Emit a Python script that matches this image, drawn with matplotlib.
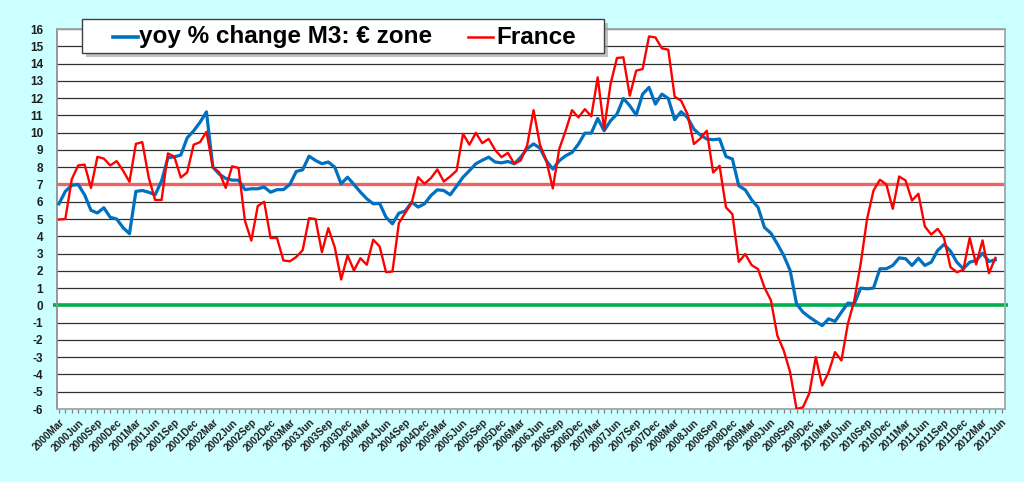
import matplotlib
matplotlib.use("Agg")
import matplotlib.pyplot as plt
from matplotlib.lines import Line2D
from matplotlib.patches import Rectangle
import numpy as np
import pandas as pd

# ---- data -------------------------------------------------------------
months = pd.date_range("2000-03-01", "2012-06-01", freq="MS")
categories = [f"{d.year}{d.strftime('%b')}" for d in months]   # 148 categories

euro_zone = [5.88, 6.6, 6.95, 7.0, 6.4, 5.5, 5.35, 5.65, 5.1, 5.0,
             4.5, 4.15, 6.6, 6.65, 6.55, 6.4, 7.2, 8.55, 8.6, 8.7,
             9.7, 10.1, 10.6, 11.2, 8.0, 7.6, 7.35, 7.25, 7.25, 6.7,
             6.75, 6.75, 6.85, 6.55, 6.7, 6.7, 7.0, 7.75, 7.85, 8.64,
             8.39, 8.2, 8.3, 8.0, 7.04, 7.42, 7.0, 6.56, 6.17, 5.88,
             5.9, 5.1, 4.72, 5.34, 5.46, 5.98, 5.69, 5.88, 6.36, 6.69,
             6.65, 6.4, 6.9, 7.42, 7.8, 8.2, 8.4, 8.58, 8.3, 8.25,
             8.33, 8.2, 8.58, 9.07, 9.35, 9.1, 8.37, 7.89, 8.37, 8.66,
             8.85, 9.34, 9.97, 9.97, 10.82, 10.11, 10.69, 11.07, 11.98, 11.56,
             11.02, 12.23, 12.62, 11.65, 12.23, 11.98, 10.75, 11.21, 10.88, 10.2,
             9.86, 9.63, 9.59, 9.63, 8.62, 8.47, 6.92, 6.69, 6.11, 5.67,
             4.51, 4.18, 3.56, 2.89, 2.02, 0.09, -0.39, -0.68, -0.93, -1.17,
             -0.78, -0.93, -0.39, 0.13, 0.09, 1.0, 0.96, 1.0, 2.12, 2.12,
             2.31, 2.75, 2.7, 2.31, 2.73, 2.31, 2.5, 3.18, 3.53, 3.14,
             2.5, 2.12, 2.5, 2.6, 3.02, 2.54, 2.64]

france = [4.97, 5.0, 7.3, 8.1, 8.15, 6.8, 8.6, 8.5, 8.1, 8.35,
          7.8, 7.15, 9.35, 9.45, 7.4, 6.1, 6.1, 8.8, 8.6, 7.4,
          7.7, 9.3, 9.45, 10.05, 8.0, 7.7, 6.8, 8.05, 7.95, 4.9,
          3.75, 5.75, 6.0, 3.9, 3.9, 2.6, 2.55, 2.8, 3.2, 5.05,
          5.0, 3.08, 4.47, 3.37, 1.5, 2.89, 2.02, 2.73, 2.35, 3.8,
          3.41, 1.92, 1.96, 4.76, 5.36, 5.94, 7.42, 7.04, 7.37, 7.87,
          7.17, 7.46, 7.8, 9.93, 9.3, 9.99, 9.39, 9.64, 9.0, 8.58,
          8.83, 8.2, 8.39, 9.26, 11.3, 9.3, 8.37, 6.77, 9.05, 10.11,
          11.3, 10.88, 11.36, 10.94, 13.2, 10.2, 12.81, 14.32, 14.36, 12.14,
          13.59, 13.68, 15.57, 15.51, 14.88, 14.8, 12.08, 11.85, 11.07, 9.34,
          9.66, 10.11, 7.69, 8.08, 5.67, 5.28, 2.52, 2.97, 2.33, 2.1,
          1.03, 0.3, -1.74, -2.61, -3.87, -6.0, -5.9, -5.08, -3.0, -4.64,
          -3.87, -2.71, -3.19, -1.07, 0.28, 2.41, 5.01, 6.65, 7.27, 7.0,
          5.59, 7.46, 7.23, 6.07, 6.46, 4.57, 4.1, 4.43, 3.89, 2.21,
          1.92, 2.06, 3.91, 2.37, 3.76, 1.86, 2.75]

reference_level = 7
zero_level = 0
series_names = ["yoy % change M3: € zone", "France"]

# ---- styling ----------------------------------------------------------
W, H = 1024, 482
BG = "#ccffff"
BLUE = "#0070c0"
RED = "#ff0000"
GREEN = "#00b050"
TXT = "#1e1e1e"
FONT = "Liberation Sans"

plt.rcParams["font.family"] = [FONT, "DejaVu Sans"]
plt.rcParams["axes.unicode_minus"] = False

fig = plt.figure(figsize=(W / 100, H / 100), dpi=100, facecolor=BG)
L, R, T, B = 57, 1005, 29, 409
ax = fig.add_axes([L / W, 1 - B / H, (R - L) / W, (B - T) / H])
ax.set_facecolor("white")

x_all = np.arange(len(categories))
ax.set_xlim(-0.3, len(categories) - 0.5)
ax.set_ylim(-6, 16)

# grid
ax.set_yticks(np.arange(-6, 17, 1))
ax.yaxis.grid(True, color="#303030", linewidth=0.9)
ax.set_axisbelow(True)

# reference lines
ax.axhline(reference_level, color="#ea6464", linewidth=2.4, zorder=2)
ax.plot([-1.0, len(categories)], [zero_level, zero_level], color=GREEN,
        linewidth=2.6, zorder=2, clip_on=False, solid_capstyle="butt")

# series
xb = np.arange(len(euro_zone))
xf = np.arange(len(france))
ax.plot(xb, euro_zone, color=BLUE, linewidth=2.3, zorder=3,
        solid_joinstyle="round")
ax.plot(xf, france, color=RED, linewidth=1.7, zorder=4,
        solid_joinstyle="round")

# axes / ticks
for s in ax.spines.values():
    s.set_color("#a0a8a8")
    s.set_linewidth(1.3)
ax.spines["left"].set_color("#909090")

ax.set_xticks(x_all[::3])
ax.set_xticklabels(categories[::3], rotation=45, ha="right",
                   rotation_mode="anchor", fontsize=7.2, fontweight="bold",
                   color=TXT)
ax.set_xticks(x_all, minor=True)
ax.tick_params(axis="x", which="both", length=3, width=0.9, color="#808080",
               direction="out", pad=3)
ax.tick_params(axis="y", length=0, pad=10, labelsize=8.5)
for lab in ax.get_yticklabels():
    lab.set_fontweight("bold")
    lab.set_color(TXT)

# ---- legend box (figure coordinates, pixels from top-left) -------------
def fx(px):
    return px / W

def fy(py):
    return 1 - py / H

lx0, ly0, lx1, ly1 = 82, 19, 604, 53
shadow = Rectangle((fx(lx0 + 4), fy(ly1 + 4)), fx(lx1 - lx0), (ly1 - ly0) / H,
                   transform=fig.transFigure, facecolor="#9a9a9a",
                   edgecolor="none", alpha=0.6, zorder=9)
box = Rectangle((fx(lx0), fy(ly1)), fx(lx1 - lx0), (ly1 - ly0) / H,
                transform=fig.transFigure, facecolor="white",
                edgecolor="#404040", linewidth=1.0, zorder=10)
fig.patches.extend([shadow, box])
yc = fy((ly0 + ly1) / 2 + 1)
fig.lines.append(Line2D([fx(113), fx(138)], [yc, yc], color=BLUE,
                        linewidth=2.6, transform=fig.transFigure, zorder=11))
fig.lines.append(Line2D([fx(468), fx(493)], [yc, yc], color=RED,
                        linewidth=1.8, transform=fig.transFigure, zorder=11))
fig.text(fx(139), yc, series_names[0], fontsize=17.5, fontweight="bold",
         color="black", va="center", ha="left", zorder=12)
fig.text(fx(496), yc, series_names[1], fontsize=17.5, fontweight="bold",
         color="black", va="center", ha="left", zorder=12)

fig.savefig("out.png", dpi=100, facecolor=BG)
